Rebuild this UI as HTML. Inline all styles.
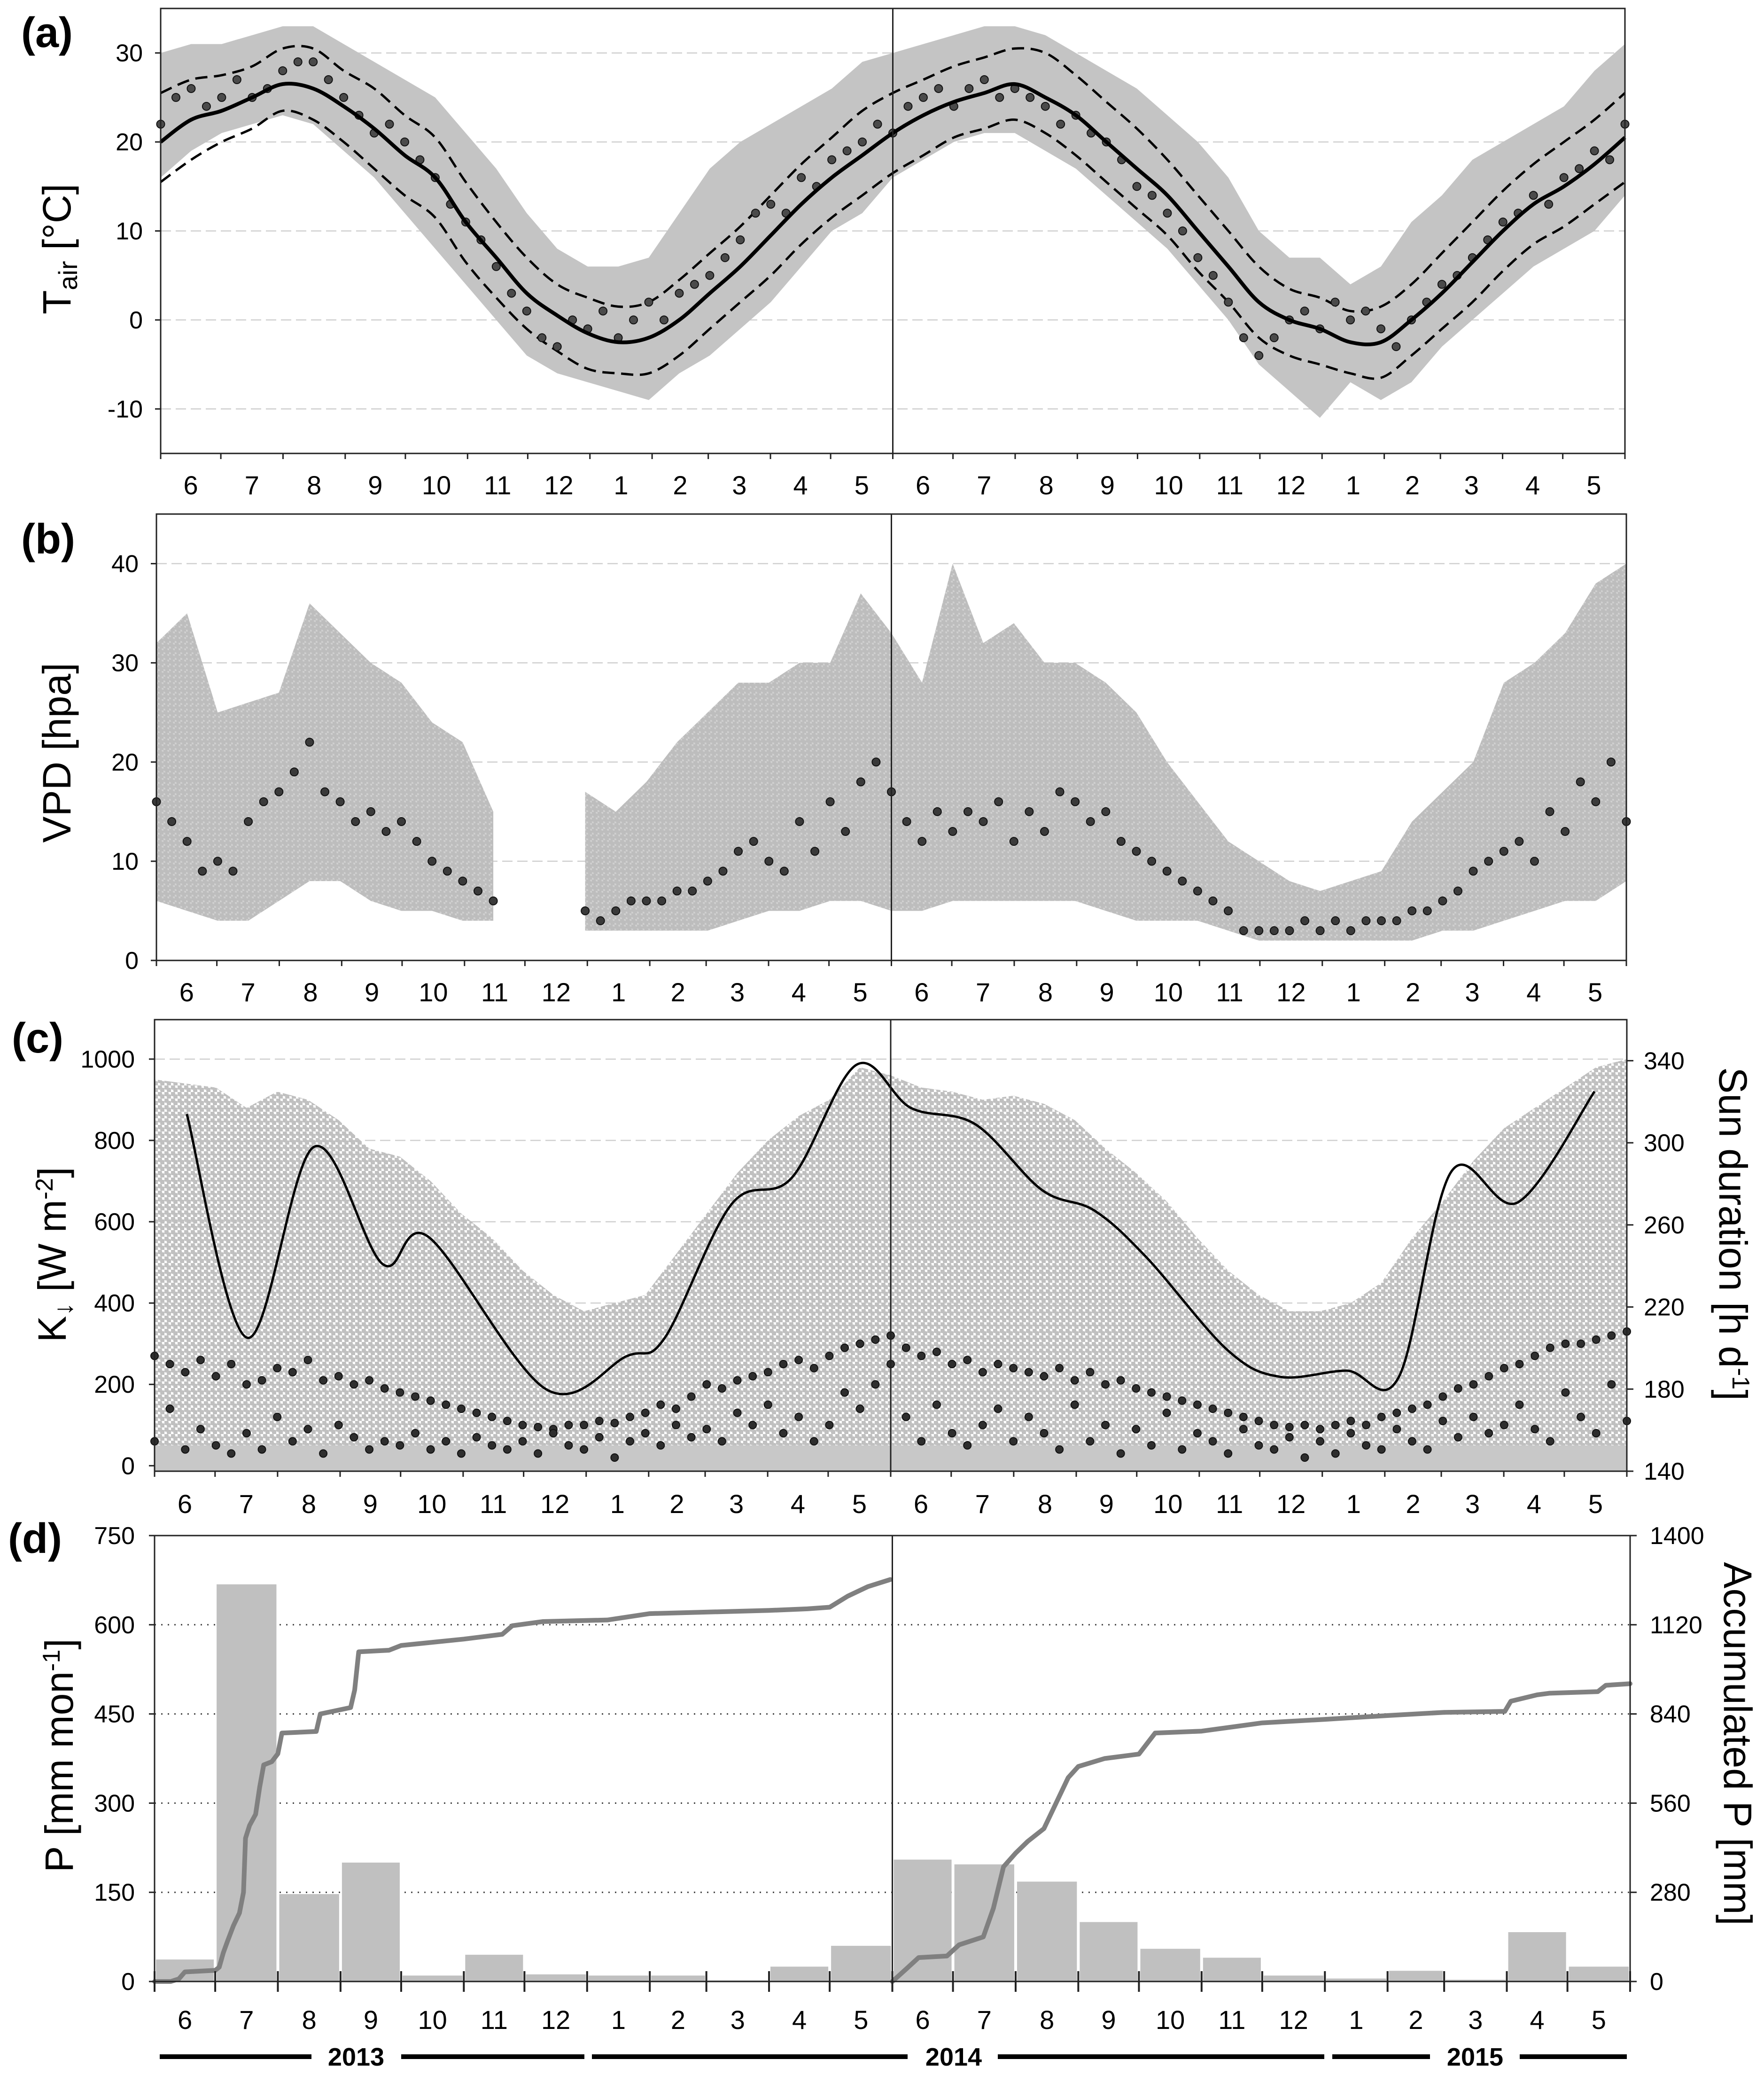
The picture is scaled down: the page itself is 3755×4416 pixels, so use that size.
<!DOCTYPE html>
<html><head><meta charset="utf-8"><style>
html,body{margin:0;padding:0;background:#fff}
svg{display:block;font-family:"Liberation Sans",Arial,sans-serif}
</style></head><body>
<svg id="chart" xmlns="http://www.w3.org/2000/svg" width="3755" height="4416" viewBox="0 0 3755 4416">
<defs>
<pattern id="dotc" width="14" height="14" patternUnits="userSpaceOnUse"><circle cx="3.5" cy="3.5" r="5.6" fill="#c0c0c0"/><circle cx="10.5" cy="10.5" r="5.6" fill="#c0c0c0"/></pattern>
<pattern id="dotb" width="12" height="12" patternUnits="userSpaceOnUse"><rect width="12" height="12" fill="#d0d0d0"/><circle cx="3" cy="3" r="5.5" fill="#bdbdbd"/><circle cx="9" cy="9" r="5.5" fill="#bdbdbd"/></pattern>
</defs>
<rect width="3755" height="4416" fill="#fff"/>
<g id="g"></g>
</svg>
<script>
// ---------- data ----------
const monthStarts=[0,30,61,92,122,153,183,214,245,273,304,334,365,395,426,457,487,518,548,579,610,638,669,699,730];
const monthLabels=["6","7","8","9","10","11","12","1","2","3","4","5","6","7","8","9","10","11","12","1","2","3","4","5"];
// Panel a (half-monthly)
const tMean=[20,22.5,23.5,25,26.5,26,24,21.5,18.5,16,11,7,3,0.5,-1.5,-2.5,-2,0,3,6,9.5,13,16,18.5,21,23,24.5,25.5,26.5,25,23,20,17,14,10,6,2,0,-1,-2.5,-2.5,0,3,6.5,10,13,15,17.5,20.5];
const tUpper=[25.5,27,27.5,28.5,30.5,30.5,28,26,23,20.5,15.5,11,7,4,2.5,1.5,2,4.5,7.5,10.5,14,17.5,20.5,23.5,25.5,27,28.5,29.5,30.5,30,27.5,24.5,21.5,18,14,10,6,3.5,2.5,1,1.5,4,7.5,11,14.5,17.5,20,22.5,25.5];
const tLower=[15.5,18,20,21.5,23.5,22.5,20,17,14,11.5,6.5,2.5,-1,-3.5,-5.5,-6,-6,-4,-1,2,5,8.5,11.5,14,16.5,18.5,20.5,21.5,22.5,21,18.5,15.5,12.5,9.5,5.5,2,-2,-4,-5,-6,-6.5,-4,-1,2,5.5,8.5,10.5,13,15.5];
const tGrayMax=[30,31,31,32,33,33,31,29,27,25,21,17,12,8,6,6,7,12,17,20,22,24,26,29,30,31,32,33,33,32,30,28,26,23,20,16,10,7,7,4,6,11,14,18,20,22,24,28,31];
const tGrayMin=[16,19,21,22,23,22,19,16,12,8,4,0,-4,-6,-7,-8,-9,-6,-4,-1,2,6,10,12,16,18,20,21,21,19,17,14,11,8,4,0,-5,-8,-11,-7,-9,-7,-3,0,3,6,8,10,14];
const tDaily=[22,25,26,24,25,27,25,26,28,29,29,27,25,23,21,22,20,18,16,13,11,9,6,3,1,-2,-3,0,-1,1,-2,0,2,0,3,4,5,7,9,12,13,12,16,15,18,19,20,22,21,24,25,26,24,26,27,25,26,25,24,22,23,21,20,18,15,14,12,10,7,5,2,-2,-4,-2,0,1,-1,2,0,1,-1,-3,0,2,4,5,7,9,11,12,14,13,16,17,19,18,22];
// Panel b
const vGrayMax=[32,35,25,26,27,36,33,30,28,24,22,15,null,null,17,15,18,22,25,28,28,30,30,37,33,28,40,32,34,30,30,28,25,20,16,12,10,8,7,8,9,14,17,20,28,30,33,38,40];
const vGrayMin=[6,5,4,4,6,8,8,6,5,5,4,4,null,null,3,3,3,3,3,4,5,5,6,6,5,5,6,6,6,6,6,5,4,4,4,3,2,2,2,2,2,2,3,3,4,5,6,6,8];
const vDaily=[16,14,12,9,10,9,14,16,17,19,22,17,16,14,15,13,14,12,10,9,8,7,6,null,null,null,null,null,5,4,5,6,6,6,7,7,8,9,11,12,10,9,14,11,16,13,18,20,17,14,12,15,13,15,14,16,12,15,13,17,16,14,15,12,11,10,9,8,7,6,5,3,3,3,3,4,3,4,3,4,4,4,5,5,6,7,9,10,11,12,10,15,13,18,16,20,14];
// Panel c
const kGrayMax=[950,940,930,880,920,900,850,780,760,700,620,560,480,420,380,400,420,520,620,720,800,860,900,980,960,930,920,900,910,890,850,780,720,650,560,480,420,380,380,400,450,560,650,750,830,880,930,980,1000];
const kDailyHigh=[270,250,230,260,220,250,200,210,240,230,260,210,220,200,210,190,180,170,160,150,140,130,120,110,100,95,90,100,100,110,105,120,130,150,140,170,200,190,210,220,230,250,260,240,270,290,300,310,320,290,270,280,250,260,230,250,240,230,220,240,210,230,200,210,190,180,170,160,150,140,130,120,110,100,95,100,90,100,110,100,120,130,140,150,170,190,200,220,240,250,270,290,300,300,310,320,330];
const kDailyLow=[60,140,40,90,50,30,80,40,120,60,90,30,100,70,40,60,50,80,40,60,30,70,50,40,60,30,80,50,40,70,20,60,80,50,100,70,90,60,130,100,150,80,120,60,100,180,140,200,250,120,60,150,80,50,100,140,60,120,80,40,150,60,100,30,90,50,130,40,80,60,30,90,50,40,70,20,60,30,80,50,40,90,60,40,110,70,120,80,100,150,90,60,180,120,80,200,110];
const sunDays=[16,46,79,113,136,194,234,253,286,316,348,375,407,440,466,492,532,558,591,617,643,676,714];
const sunHours=[314,205,298,241,254,180,196,205,270,283,338,317,309,277,267,244,199,186,189,186,286,271,325];
// Panel d
const precipMonthly=[37,668,147,200,10,45,12,10,10,2,25,60,205,197,168,100,55,40,10,5,18,3,83,25];
const accDays1=[0,8,12,15,30,32,34,36,39,42,44,45,47,50,52,54,58,61,63,80,82,97,99,101,116,122,153,172,177,192,224,245,304,323,334,343,353,364];
const accVals1=[0,0,8,30,35,45,90,125,175,215,280,450,490,525,610,680,690,715,780,785,840,860,915,1035,1040,1055,1075,1090,1117,1130,1135,1155,1165,1170,1175,1210,1240,1262];
const accDays2=[365,372,378,392,398,410,415,420,426,432,440,446,452,457,470,487,495,518,548,579,610,638,668,671,684,690,714,718,730];
const accVals2=[0,40,75,80,115,140,230,360,403,440,480,560,640,675,700,714,780,786,812,823,835,845,848,880,900,905,910,930,935];
const yTicksA=[30,20,10,0,-10], yTicksB=[0,10,20,30,40], yTicksC=[0,200,400,600,800,1000], yTicksSun=[140,180,220,260,300,340], yTicksP=[0,150,300,450,600,750], yTicksAcc=[0,280,560,840,1120,1400];

// ---------- helpers ----------
const NS="http://www.w3.org/2000/svg";
const G=document.getElementById('g');
function el(tag,attrs,parent,txt){const e=document.createElementNS(NS,tag);for(const k in attrs)e.setAttribute(k,attrs[k]);if(txt!==undefined)e.textContent=txt;(parent||G).appendChild(e);return e;}
const PA={L:342,R:3459,T:18,B:965,ymin:-15,ymax:35};
const PB={L:333,R:3462,T:1094,B:2044,ymin:0,ymax:45};
const PC={L:329,R:3463,T:2170,B:3131,ymin:-13.5,ymax:1097};
const PCs={L:329,R:3463,T:2170,B:3131,ymin:140,ymax:360};
const PD={L:329,R:3470,T:3268,B:4217,ymin:0,ymax:750};
const PDa={L:329,R:3470,T:3268,B:4217,ymin:0,ymax:1400};
function X(P,d){return P.L+d/730*(P.R-P.L);}
function Y(P,v){return P.B-(v-P.ymin)/(P.ymax-P.ymin)*(P.B-P.T);}
function halfDay(i,n){return i*730/(n-1);}
function smoothPath(pts){let s='M'+pts[0][0]+','+pts[0][1];for(let i=0;i<pts.length-1;i++){const p0=pts[i-1]||pts[i],p1=pts[i],p2=pts[i+1],p3=pts[i+2]||p2;const c1=[p1[0]+(p2[0]-p0[0])/6,p1[1]+(p2[1]-p0[1])/6],c2=[p2[0]-(p3[0]-p1[0])/6,p2[1]-(p3[1]-p1[1])/6];s+=' C'+c1.join(',')+' '+c2.join(',')+' '+p2.join(',');}return s;}
function bandPath(P,maxA,minA){let segs=[],cur=[];for(let i=0;i<maxA.length;i++){if(maxA[i]===null){if(cur.length)segs.push(cur);cur=[];}else cur.push(i);}if(cur.length)segs.push(cur);let d='';segs.forEach(s=>{const n=maxA.length;d+='M'+s.map(i=>X(P,halfDay(i,n))+','+Y(P,maxA[i])).join(' L');d+=' L'+s.slice().reverse().map(i=>X(P,halfDay(i,n))+','+Y(P,minA[i])).join(' L')+' Z ';});return d;}
function text(x,y,s,size,anchor,extra,name){const t=el('text',Object.assign({x:x,y:y,'font-size':size,'text-anchor':anchor||'middle',fill:'#000'},extra||{}),G,s);return t;}
function frame(P,name){const r=el('rect',{x:P.L,y:P.T,width:P.R-P.L,height:P.B-P.T,fill:'none',stroke:'#222','stroke-width':3});}
function grid(P,ticks,dotted){ticks.forEach(v=>{if(v<=P.ymin)return;const l=el('line',{x1:P.L,x2:P.R,y1:Y(P,v),y2:Y(P,v),stroke:dotted?'#444':'#cfcfcf','stroke-width':dotted?3:2.5,'stroke-dasharray':dotted?'3 11':'22 10'});});}
function yLabels(P,ticks,right,xoff){ticks.forEach(v=>{const y=Y(P,v);const tk=el('line',{x1:right?P.R:P.L-12,x2:right?P.R+14:P.L,y1:y,y2:y,stroke:'#222','stroke-width':3});text(right?P.R+xoff:P.L-xoff,y+18,String(v),52,right?'start':'end',{},'y-tick-label');});}
function monthAxis(P,ly,big){monthStarts.forEach(d=>{const x=X(P,d);const t=el('line',{x1:x,x2:x,y1:big?P.B-22:P.B,y2:big?P.B+22:P.B+12,stroke:'#222','stroke-width':big?4:3});});monthLabels.forEach((m,i)=>{text(X(P,(monthStarts[i]+monthStarts[i+1])/2),ly,m,56,'middle',{},'month-label');});}
function vline(P){const l=el('line',{x1:X(P,365),x2:X(P,365),y1:P.T,y2:P.B,stroke:'#222','stroke-width':3});}
function dots(P,arr,fill,r){const n=arr.length;arr.forEach((v,i)=>{if(v===null)return;const c=el('circle',{cx:X(P,halfDay(i,n)),cy:Y(P,v),r:r,fill:fill,stroke:'#111','stroke-width':2});});}
function rotTitle(x,y,parts,name){const t=el('text',{x:0,y:0,'font-size':84,'text-anchor':'middle',transform:'translate('+x+','+y+') rotate(-90)'});parts.forEach(p=>{el('tspan',p.a||{},t,p.t);});return t;}

// ---------- panel labels ----------
text(45,100,"(a)",90,'start',{'font-weight':'bold'},'panel-label-a');
text(45,1178,"(b)",90,'start',{'font-weight':'bold'},'panel-label-b');
text(25,2240,"(c)",90,'start',{'font-weight':'bold'},'panel-label-c');
text(17,3305,"(d)",90,'start',{'font-weight':'bold'},'panel-label-d');

// ---------- panel a ----------
grid(PA,yTicksA,false);
let p=el('path',{d:bandPath(PA,tGrayMax,tGrayMin),fill:'#c4c4c4'});


p=el('path',{d:smoothPath(tUpper.map((v,i)=>[X(PA,halfDay(i,tUpper.length)),Y(PA,v)])),fill:'none',stroke:'#000','stroke-width':5,'stroke-dasharray':'26 14'});


p=el('path',{d:smoothPath(tLower.map((v,i)=>[X(PA,halfDay(i,tLower.length)),Y(PA,v)])),fill:'none',stroke:'#000','stroke-width':5,'stroke-dasharray':'26 14'});


dots(PA,tDaily,'#4a4a4a',8.5);
p=el('path',{d:smoothPath(tMean.map((v,i)=>[X(PA,halfDay(i,tMean.length)),Y(PA,v)])),fill:'none',stroke:'#000','stroke-width':8});


vline(PA);frame(PA,'panel-a-frame');yLabels(PA,yTicksA,false,38);monthAxis(PA,1052,false);
rotTitle(150,530,[{t:"T"},{t:"air",a:{'font-size':56,dy:14}},{t:" [°C]",a:{dy:-14}}],'y-axis-title-tair');

// ---------- panel b ----------
grid(PB,yTicksB,false);
p=el('path',{d:bandPath(PB,vGrayMax,vGrayMin),fill:'url(#dotb)'});


dots(PB,vDaily,'#3a3a3a',8.5);
vline(PB);frame(PB,'panel-b-frame');yLabels(PB,yTicksB,false,38);monthAxis(PB,2131,false);
rotTitle(150,1602,[{t:"VPD [hpa]"}],'y-axis-title-vpd');

// ---------- panel c ----------
grid(PC,yTicksC,false);
p=el('path',{d:bandPath(PC,kGrayMax,kGrayMax.map(()=>-10)),fill:'url(#dotc)'});


p=el('rect',{x:PC.L,y:Y(PC,50),width:PC.R-PC.L,height:PC.B-Y(PC,50),fill:'#c8c8c8'});


dots(PC,kDailyHigh,'#2e2e2e',8);
dots(PC,kDailyLow,'#2e2e2e',8);
p=el('path',{d:smoothPath(sunDays.map((d,i)=>[X(PCs,d),Y(PCs,sunHours[i])])),fill:'none',stroke:'#000','stroke-width':5});


vline(PC);frame(PC,'panel-c-frame');yLabels(PC,yTicksC,false,42);yLabels(PCs,yTicksSun,true,36);monthAxis(PC,3220,false);
rotTitle(140,2670,[{t:"K"},{t:"↓",a:{'font-size':56,dy:14}},{t:" [W m",a:{dy:-14}},{t:"-2",a:{'font-size':52,dy:-28}},{t:"]",a:{dy:28}}],'y-axis-title-radiation');
rotTitle(3660,2626,[{t:"Sun duration [h d"},{t:"-1",a:{'font-size':52,dy:-28}},{t:"]",a:{dy:28}}],'y-axis-title-sun').setAttribute('transform','translate(3660,2626) rotate(90)');

// ---------- panel d ----------
grid(PD,[150,300,450,600],true);
precipMonthly.forEach((v,i)=>{const x1=X(PD,monthStarts[i])+3,x2=X(PD,monthStarts[i+1])-3;const r=el('rect',{x:x1,y:Y(PD,v),width:x2-x1,height:PD.B-Y(PD,v),fill:'#c0c0c0'});

});
[[accDays1,accVals1],[accDays2,accVals2]].forEach((s)=>{const pl=el('polyline',{points:s[0].map((d,i)=>X(PDa,d)+','+Y(PDa,s[1][i])).join(' '),fill:'none',stroke:'#808080','stroke-width':10,'stroke-linejoin':'round','stroke-linecap':'round'});

});
vline(PD);frame(PD,'panel-d-frame');yLabels(PD,yTicksP,false,42);yLabels(PDa,yTicksAcc,true,42);monthAxis(PD,4318,true);
rotTitle(155,3736,[{t:"P [mm mon"},{t:"-1",a:{'font-size':52,dy:-28}},{t:"]",a:{dy:28}}],'y-axis-title-precip');
rotTitle(3670,3711,[{t:"Accumulated P [mm]"}],'y-axis-title-accumulated').setAttribute('transform','translate(3670,3711) rotate(90)');

// year bars
[[340,663],[854,1244],[1260,1932],[2124,2819],[2836,3044],[3235,3463]].forEach(s=>{const l=el('line',{x1:s[0],x2:s[1],y1:4377,y2:4377,stroke:'#000','stroke-width':10});

});
text(758,4396,"2013",54,'middle',{'font-weight':'bold'},'year-label-2013');
text(2030,4396,"2014",54,'middle',{'font-weight':'bold'},'year-label-2014');
text(3140,4396,"2015",54,'middle',{'font-weight':'bold'},'year-label-2015');
</script>
</body></html>
